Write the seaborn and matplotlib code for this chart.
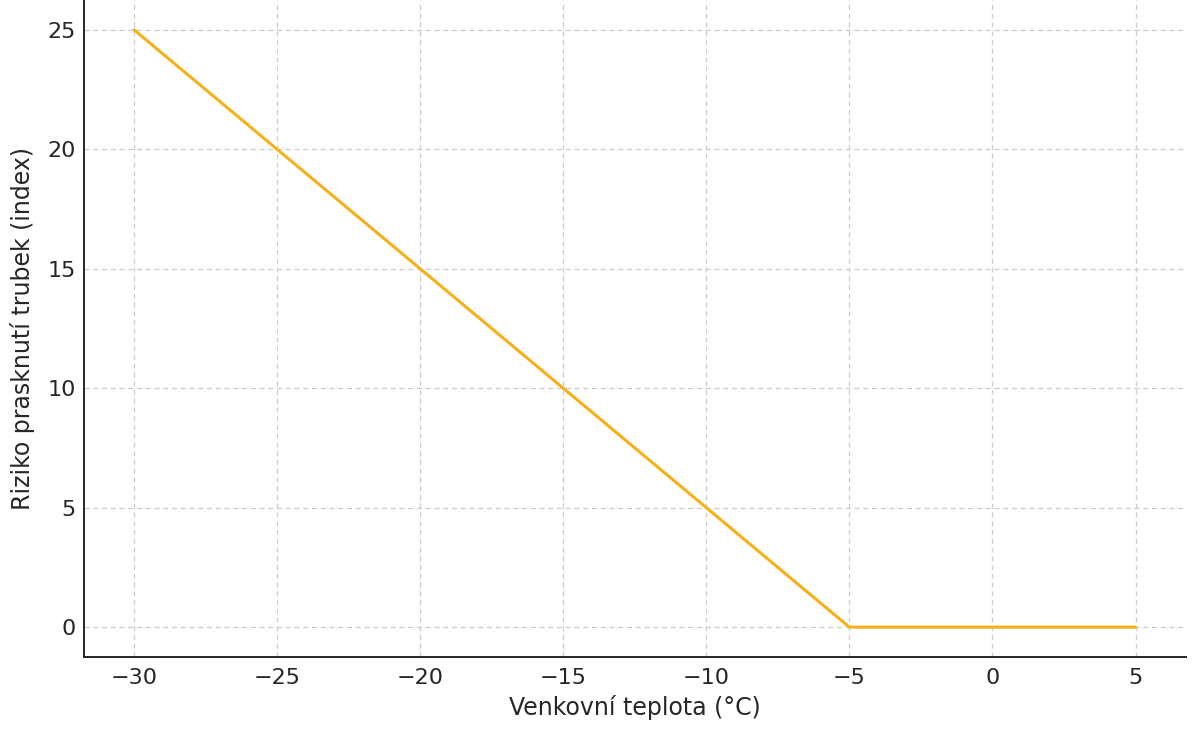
import matplotlib
matplotlib.use("Agg")
import matplotlib.pyplot as plt
import seaborn as sns
import pandas as pd

teplota = [-30, -25, -20, -15, -10, -5, 0, 5]
riziko = [25, 20, 15, 10, 5, 0, 0, 0]
x_ticks = [-30, -25, -20, -15, -10, -5, 0, 5]
y_ticks = [0, 5, 10, 15, 20, 25]

sns.set_theme(style="white")
plt.rcParams["font.family"] = ["DejaVu Sans"]

df = pd.DataFrame({"teplota": teplota, "riziko": riziko})

fig = plt.figure(figsize=(12, 7.34), dpi=100)
ax = fig.add_axes([0.07, 0.1049, 0.918, 0.8951])

sns.lineplot(data=df, x="teplota", y="riziko", ax=ax, color="#F5B01A", linewidth=2.2)

ax.set_xticks(x_ticks)
ax.set_yticks(y_ticks)
ax.set_xlim(-31.75, 6.75)
ax.set_ylim(-1.25, 26.25)

ax.grid(True, linestyle=(0, (4, 3)), color="#cccccc", linewidth=0.9)
ax.set_axisbelow(True)

for s in ["top", "right"]:
    ax.spines[s].set_visible(False)
for s in ["left", "bottom"]:
    ax.spines[s].set_color("#262626")
    ax.spines[s].set_linewidth(1.4)

ax.tick_params(axis="both", direction="in", length=6, width=1.2, color="#262626",
               labelsize=16, labelcolor="#262626")
ax.tick_params(axis="x", pad=8)
ax.tick_params(axis="y", pad=6)

ax.set_xlabel("Venkovní teplota (°C)", fontsize=17, color="#262626", labelpad=5)
ax.set_ylabel("Riziko prasknutí trubek (index)", fontsize=17, color="#262626", labelpad=9)

fig.savefig("out.png", dpi=100)
